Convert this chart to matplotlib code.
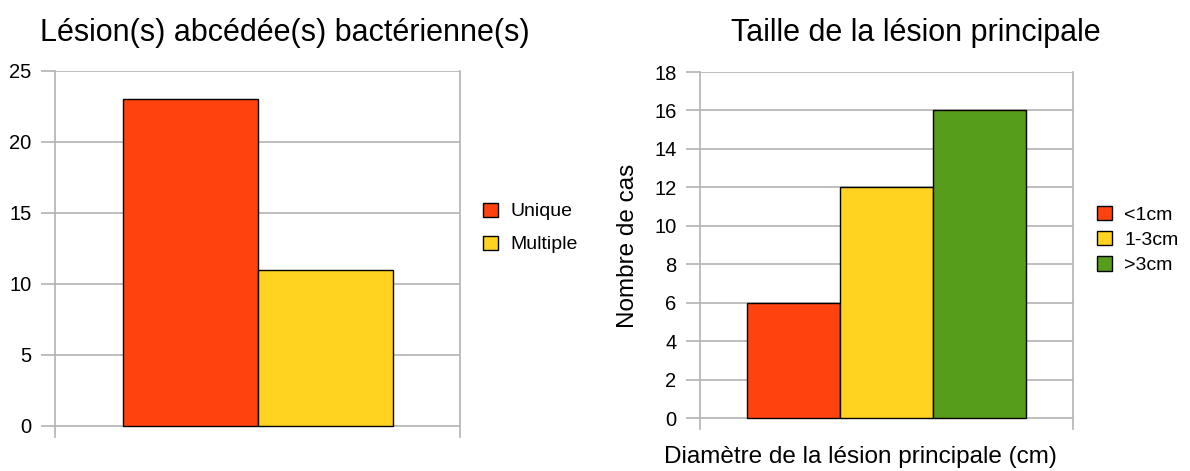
import matplotlib.pyplot as plt
from matplotlib.patches import Patch

plt.rcParams['font.family'] = ['Liberation Sans', 'DejaVu Sans']

# Lésions abcédées : nombre de cas
lesion_types = ['Unique', 'Multiple']
lesion_counts = [23, 11]

# Taille de la lésion principale
size_classes = ['<1cm', '1-3cm', '>3cm']
size_counts = [6, 12, 16]

colors = ['#FF420E', '#FFD320', '#579D1C']
grid_color = '#b3b3b3'

W, H = 1190, 471
fig = plt.figure(figsize=(W / 100, H / 100), dpi=100)


def style_axes(ax, ymax, step):
    ax.set_yticks(range(0, ymax + 1, step))
    ax.set_xticks([])
    ax.grid(axis='y', color=grid_color, linewidth=1.2)
    ax.set_axisbelow(True)
    for side in ['top', 'bottom']:
        ax.spines[side].set_visible(False)
    for side in ['left', 'right']:
        ax.spines[side].set_color(grid_color)
        ax.spines[side].set_linewidth(1.2)
    ax.tick_params(axis='y', length=10, width=1.2, color=grid_color,
                   labelsize=14.5, pad=7)


def add_legend(names, x, y, spacing):
    handles = [Patch(facecolor=colors[i], edgecolor='black', linewidth=1)
               for i in range(len(names))]
    fig.legend(handles, names, loc='center left',
               bbox_to_anchor=(x / W, 1 - y / H), frameon=False,
               fontsize=14, handlelength=0.75, handleheight=0.75,
               handletextpad=0.65, labelspacing=spacing,
               borderpad=0, borderaxespad=0)


# graphique de gauche
ax1 = fig.add_axes([55 / W, 1 - 437 / H, 405 / W, 366 / H])
for i, (name, val) in enumerate(zip(lesion_types, lesion_counts)):
    ax1.bar(i, val, width=1, color=colors[i], edgecolor='black',
            linewidth=1, label=name)
ax1.set_xlim(-1, 2)
ax1.set_ylim(-0.775, 25)
style_axes(ax1, 25, 5)
fig.text(285 / W, 1 - 33 / H, 'Lésion(s) abcédée(s) bactérienne(s)',
         ha='center', va='center', fontsize=22)
add_legend(lesion_types, 483, 228, 0.78)

# graphique de droite
ax2 = fig.add_axes([700 / W, 1 - 429 / H, 373 / W, 357 / H])
for i, (name, val) in enumerate(zip(size_classes, size_counts)):
    ax2.bar(i, val, width=1, color=colors[i], edgecolor='black',
            linewidth=1, label=name)
ax2.set_xlim(-1, 3)
ax2.set_ylim(-0.572, 18)
style_axes(ax2, 18, 2)
fig.text(628 / W, 1 - 246 / H, 'Nombre de cas', rotation=90,
         ha='center', va='center', fontsize=17.5)
fig.text(916 / W, 1 - 33 / H, 'Taille de la lésion principale',
         ha='center', va='center', fontsize=22)
fig.text(860 / W, 1 - 457 / H, 'Diamètre de la lésion principale (cm)',
         ha='center', va='center', fontsize=17.5)
add_legend(size_classes, 1097, 240, 0.38)

fig.savefig('out.png', dpi=100)
